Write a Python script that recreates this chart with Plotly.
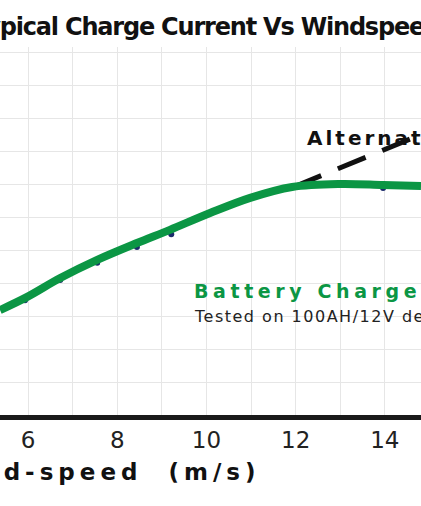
import plotly.graph_objects as go

# Battery charge current curve (wind speed m/s -> current, gridline units)
wind_speed = [5.37, 5.98, 6.72, 7.55, 8.44, 9.18, 10.08, 10.98, 11.92, 13.0, 13.96, 14.81]
charge_current = [3.18, 3.58, 4.15, 4.70, 5.21, 5.61, 6.12, 6.58, 6.91, 7.0, 6.97, 6.94]

# Measured points (dark dots under the curve)
meas_speed = [5.93, 6.72, 7.55, 8.44, 9.21, 13.96]
meas_current = [3.48, 4.09, 4.61, 5.09, 5.48, 6.88]

# Alternator output (dashed extrapolation)
alt_speed = [11.95, 14.56]
alt_current = [6.91, 8.36]

x_tickvals = [6, 8, 10, 12, 14]
x_ticktext = ["6", "8", "10", "12", "14"]

GREEN = "#0b9644"
FONT = "DejaVu Sans"
W, H = 421, 506
T, B = 47, 91
PH = H - T - B


def ls(text, px):
    return f'<span style="letter-spacing:{px}px">{text}</span>'


fig = go.Figure()
fig.add_trace(go.Scatter(x=alt_speed, y=alt_current, mode="lines",
                         line=dict(color="#111111", width=5, dash="30px,18px"),
                         hoverinfo="skip"))
fig.add_trace(go.Scatter(x=meas_speed, y=meas_current, mode="markers",
                         marker=dict(color="#1b2a6b", size=6), hoverinfo="skip"))
fig.add_trace(go.Scatter(x=wind_speed, y=charge_current, mode="lines",
                         line=dict(color=GREEN, width=8, shape="spline", smoothing=1.0),
                         hoverinfo="skip"))

fig.update_layout(
    width=W, height=H,
    margin=dict(l=0, r=0, t=T, b=B),
    paper_bgcolor="white", plot_bgcolor="white",
    showlegend=False,
    xaxis=dict(range=[5.37, 14.81], tickvals=x_tickvals, ticktext=x_ticktext,
               showgrid=True, gridcolor="#e6e6e6", gridwidth=1,
               minor=dict(dtick=1, tick0=0, showgrid=True, gridcolor="#e6e6e6", gridwidth=1),
               showline=True, linecolor="#1a1a1a", linewidth=5,
               ticks="", zeroline=False,
               tickfont=dict(family=FONT, size=23, color="#222222"),
               ticklabelstandoff=0),
    yaxis=dict(range=[0, PH / 33], dtick=1, tick0=0, showgrid=True,
               gridcolor="#e6e6e6", gridwidth=1, showticklabels=False,
               zeroline=False, showline=False, ticks=""),
    annotations=[
        dict(text="<b>" + ls("Typical Charge Current Vs Windspeed", -1.2) + "</b>",
             xref="paper", yref="paper",
             x=-29 / W, y=1, yshift=T - 27, xanchor="left", yanchor="middle", showarrow=False,
             font=dict(family=FONT, size=24, color="#111111")),
        dict(text="<b>" + ls("Wind-speed  (m/s)", 5) + "</b>", xref="paper", yref="paper",
             x=263 / W, y=0, yshift=-(472 - (H - B)), xanchor="right", yanchor="middle",
             showarrow=False,
             font=dict(family=FONT, size=23, color="#111111")),
        dict(text="<b>" + ls("Alternator Output", 3) + "</b>", xref="paper", yref="paper",
             x=305 / W, y=(H - B - 138) / PH, xanchor="left", yanchor="middle", showarrow=False,
             font=dict(family=FONT, size=20, color="#111111")),
        dict(text="<b>" + ls("Battery Charge Current", 4.6) + "</b>", xref="paper", yref="paper",
             x=192 / W, y=(H - B - 291) / PH, xanchor="left", yanchor="middle", showarrow=False,
             font=dict(family=FONT, size=19, color=GREEN)),
        dict(text=ls("Tested on 100AH/12V deep cycle battery", 1.5), xref="paper", yref="paper",
             x=192 / W, y=(H - B - 316) / PH, xanchor="left", yanchor="middle", showarrow=False,
             font=dict(family=FONT, size=16, color="#222222")),
    ],
)

fig.write_html("out.html", config={"displayModeBar": False},
               post_script="document.body.style.margin='0';")
